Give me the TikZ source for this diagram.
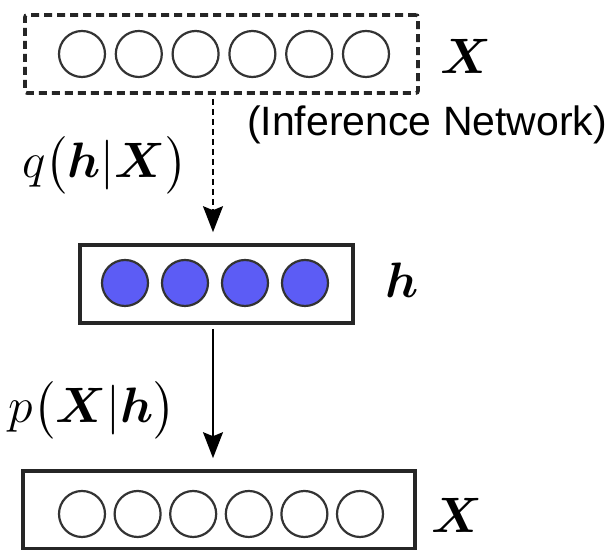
\documentclass[tikz,border=0pt]{standalone}
\usepackage{amsmath,amssymb}
\usepackage{fontspec}
\newfontfamily\labelfont{Liberation Sans}
\usetikzlibrary{arrows.meta}
\definecolor{hidblue}{RGB}{92,92,245}

\begin{document}
\begin{tikzpicture}[x=0.5pt,y=0.5pt,
  unit/.style={shape=circle,draw=black!80,line width=1.1pt,minimum size=23pt,inner sep=0pt},
  layer/.style={draw=black!85,line width=1.8pt,minimum height=39pt,inner sep=0pt},
  flow/.style={-{Stealth[length=13pt,width=10pt,inset=2pt]},line width=0.7pt},
  mathlab/.style={font=\fontsize{24}{28}\selectfont}]
\useasboundingbox (0,0) rectangle (612,550);
%% observed layer, encoder side
\node[layer,dashed,dash pattern=on 4pt off 2.5pt,rounded corners=1pt,minimum width=196.5pt](xin) at (221.5,496){};
\foreach \i in {1,...,6}
  \node[unit](xin\i) at ({82+56.8*(\i-1)},496){};
\node[mathlab](xinlab) at (466,494){$\boldsymbol{X}$};
%% hidden layer
\node[layer,minimum width=136.5pt](hid) at (216.5,266){};
\foreach \i in {1,...,4}
  \node[unit,fill=hidblue](hid\i) at ({125+60*(\i-1)},267){};
\node[mathlab](hidlab) at (402,270){$\boldsymbol{h}$};
%% observed layer, decoder side
\node[layer,minimum width=196pt](xout) at (219,40){};
\foreach \i in {1,...,6}
  \node[unit](xout\i) at ({82+55.6*(\i-1)},36){};
\node[mathlab](xoutlab) at (457,35){$\boldsymbol{X}$};
%% arrows and their labels
\draw[flow,dashed,dash pattern=on 3pt off 2pt,shorten <=2pt,shorten >=5.5pt]([xshift=-1.75pt]xin.south -| hid.north)--([xshift=-1.75pt]hid.north);
\draw[flow,shorten <=2pt,shorten >=5.5pt]([xshift=-1.75pt]hid.south)--([xshift=-1.75pt]hid.south |- xout.north);
\node[mathlab](qlab) at (105,385){$q\bigl(\boldsymbol{h}|\boldsymbol{X}\bigr)$};
\node[anchor=west,font=\fontsize{20.5}{24}\labelfont](inflab) at (240,425){(Inference Network)};
\node[mathlab](plab) at (92,140){$p\bigl(\boldsymbol{X}|\boldsymbol{h}\bigr)$};
\end{tikzpicture}
\end{document}
